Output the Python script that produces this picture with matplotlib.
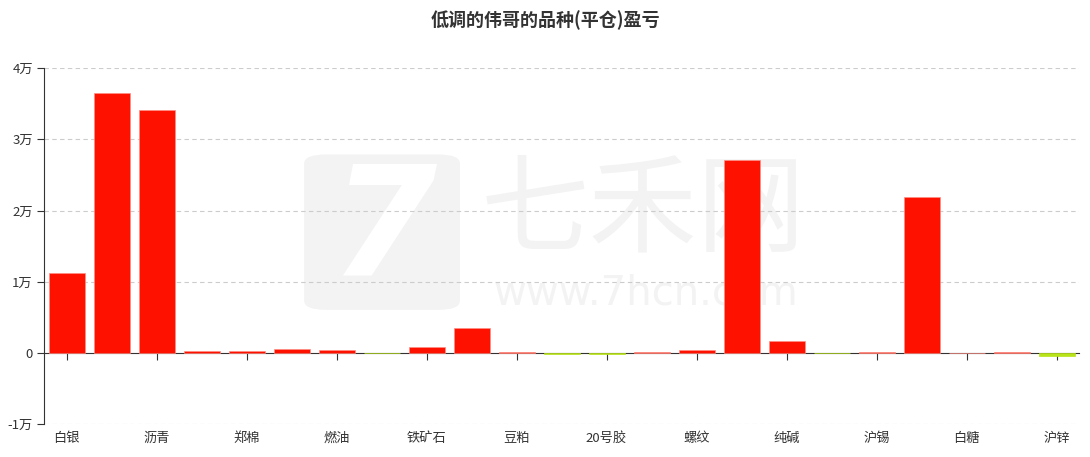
import matplotlib.pyplot as plt
from matplotlib.patches import FancyBboxPatch

plt.rcParams["font.family"] = ["Noto Sans CJK SC", "DejaVu Sans"]

# profit/loss per product, 23 products; only every other name is shown on the axis
values = [
    11260, 36470, 34180, 240, 240, 610, 380, -30, 890, 3550, 190, -80,
    -150, 190, 470, 27110, 1700, -30, 190, 21900, 30, 190, -480,
]
shown_labels = ["白银", "沥青", "郑棉", "燃油", "铁矿石", "豆粕", "20号胶",
                "螺纹", "纯碱", "沪锡", "白糖", "沪锌"]
y_ticks = [-10000, 0, 10000, 20000, 30000, 40000]
y_tick_labels = ["-1万", "0", "1万", "2万", "3万", "4万"]

RED = "#ff1100"
GREEN = "#b8e21a"


def draw_watermark(fig):
    box = FancyBboxPatch((0.279, 0.322), 0.143, 0.34,
                         boxstyle="round,pad=0,rounding_size=0.02",
                         transform=fig.transFigure, facecolor="#f3f3f3",
                         edgecolor="none", zorder=0)
    fig.patches.append(box)
    fig.text(0.352, 0.49, "7", fontsize=110, color="white", weight="bold",
             style="italic", ha="center", va="center", zorder=0.1,
             family="DejaVu Sans")
    fig.text(0.590, 0.535, "七禾网", fontsize=78, color="#f3f3f3",
             ha="center", va="center", zorder=0.1)
    fig.text(0.592, 0.358, "www.7hcn.com", fontsize=29, color="#f3f3f3",
             ha="center", va="center", zorder=0.1, family="DejaVu Sans")


def plot_pnl():
    fig = plt.figure(figsize=(10.9, 4.57), dpi=100)
    fig.patch.set_facecolor("white")
    draw_watermark(fig)

    ax = fig.add_axes([44 / 1090, 0.0716, 1035 / 1090, 0.7794])
    ax.set_zorder(1)
    ax.patch.set_alpha(0)

    x = list(range(len(values)))
    colors = [RED if v >= 0 else GREEN for v in values]
    edges = ["#ff8f85" if v >= 0 else GREEN for v in values]
    ax.bar(x, values, width=0.8, color=colors, edgecolor=edges,
           linewidth=0.5, zorder=3)

    ax.set_xlim(-0.5, len(values) - 0.5)
    ax.set_ylim(-10000, 40000)
    ax.set_yticks(y_ticks)
    ax.set_yticklabels(y_tick_labels)
    ax.set_xticks(x[::2])
    ax.set_xticklabels(shown_labels)

    for y in y_ticks:
        if y != 0:
            ax.axhline(y, color="#cccccc", linewidth=0.8,
                       linestyle=(0, (4, 3)), zorder=1)

    ax.spines["top"].set_visible(False)
    ax.spines["right"].set_visible(False)
    ax.spines["bottom"].set_position(("data", 0))
    ax.spines["bottom"].set_color("#333333")
    ax.spines["left"].set_color("#333333")
    ax.spines["bottom"].set_zorder(2)

    ax.tick_params(axis="y", length=5, color="#333333", labelcolor="#333333",
                   labelsize=9.5, pad=3)
    ax.tick_params(axis="x", length=5, color="#333333", labelcolor="#333333",
                   labelsize=9.5, pad=3)
    # x labels sit below the plot area, not at the zero line
    for t in ax.xaxis.get_major_ticks():
        t.label1.set_transform(ax.get_xaxis_transform())
        t.label1.set_position((t.label1.get_position()[0], -0.022))
        t.label1.set_verticalalignment("top")

    fig.suptitle("低调的伟哥的品种(平仓)盈亏", y=0.978, fontsize=13,
                 fontweight="bold", color="#333333")

    plt.savefig("out.png", dpi=100, facecolor="white")


if __name__ == "__main__":
    plot_pnl()
